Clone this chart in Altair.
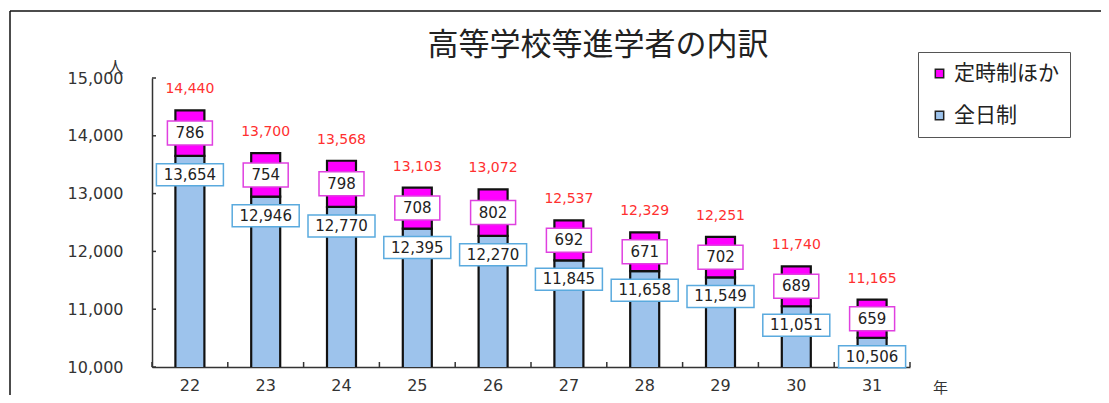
import altair as alt
import pandas as pd

YEARS = ["22", "23", "24", "25", "26", "27", "28", "29", "30", "31"]
FULLTIME = [13654, 12946, 12770, 12395, 12270, 11845, 11658, 11549, 11051, 10506]
PARTTIME = [786, 754, 798, 708, 802, 692, 671, 702, 689, 659]
TOTAL = [14440, 13700, 13568, 13103, 13072, 12537, 12329, 12251, 11740, 11165]
SERIES = ["定時制ほか", "全日制"]
Y_TICKS = [10000, 11000, 12000, 13000, 14000, 15000]
TITLE = "高等学校等進学者の内訳"

W, H = 758, 289
STEP = W / len(YEARS)
JP = "Noto Sans CJK JP"
NUM = "DejaVu Sans"

long_rows = []
for y, f, p in zip(YEARS, FULLTIME, PARTTIME):
    long_rows.append({"年": y, "区分": "全日制", "人数": f, "ord": 0})
    long_rows.append({"年": y, "区分": "定時制ほか", "人数": p, "ord": 1})
long_df = pd.DataFrame(long_rows)
wide_df = pd.DataFrame({"年": YEARS, "full": FULLTIME, "part": PARTTIME, "total": TOTAL})
tick_df = pd.DataFrame({"v": Y_TICKS})

X_AXIS = alt.Axis(labelAngle=0, ticks=False, grid=False, labelPadding=10,
                  labelFontSize=16, labelFont=NUM, labelColor="#333",
                  domainColor="#333", domainWidth=1.5,
                  title="年", titleX=788, titleY=20, titleAlign="center",
                  titleBaseline="middle", titleFontSize=15, titleFont=JP,
                  titleFontWeight="normal", titleColor="#333")
Y_AXIS = alt.Axis(values=Y_TICKS, format=",.0f", ticks=False, grid=False, labelPadding=29,
                  labelFontSize=16, labelFont=NUM, labelColor="#333",
                  domainColor="#333", domainWidth=1.5,
                  title="人", titleAngle=0, titleX=-37, titleY=-11, titleAlign="center",
                  titleBaseline="middle", titleFontSize=16, titleFont=JP,
                  titleFontWeight="normal", titleColor="#333")
x_scale = alt.Scale(paddingInner=0, paddingOuter=0)
y_scale = alt.Scale(domain=[10000, 15000], zero=False, nice=False)


def X():
    return alt.X("年:N", sort=YEARS, scale=x_scale, axis=X_AXIS)


def Y(field, **kw):
    return alt.Y(field, scale=y_scale, axis=Y_AXIS, **kw)


bars = alt.Chart(long_df).mark_bar(size=29, stroke="#111", strokeWidth=2.2, clip=True).encode(
    x=X(),
    y=Y("人数:Q", stack="zero"),
    color=alt.Color("区分:N", scale=alt.Scale(domain=SERIES, range=["#ff00ff", "#9dc3ec"]),
                    legend=alt.Legend(title=None, orient="none", legendX=766, legendY=-26,
                                      strokeColor="#555", fillColor="white", padding=11,
                                      labelFontSize=21, labelFont=JP, labelColor="#222",
                                      rowPadding=20, labelOffset=4, symbolType="square",
                                      symbolSize=70, symbolStrokeColor="#222",
                                      symbolStrokeWidth=1.5)),
    order=alt.Order("ord:Q", sort="ascending"),
)

base = alt.Chart(wide_df).encode(x=X())

totals = base.mark_text(dy=-21, color="#ff3030", fontSize=14, font=NUM).encode(
    y=Y("total:Q"), text=alt.Text("total:Q", format=","))

mid = base.transform_calculate(mid="datum.full + datum.part / 2")
pbox = mid.mark_point(shape="M-1,-0.533L1,-0.533L1,0.533L-1,0.533Z", size=2025, filled=True,
                      fill="white", stroke="#e040e0", strokeWidth=1.5, opacity=1).encode(
    y=Y("mid:Q"))
ptext = mid.mark_text(fontSize=15, font=NUM, color="#222").encode(
    y=Y("mid:Q"), text=alt.Text("part:Q", format=","))

fbox = base.mark_point(shape="M-1,-0.328L1,-0.328L1,0.328L-1,0.328Z", size=4489, filled=True,
                       fill="white", stroke="#5aaade", strokeWidth=1.5, opacity=1,
                       yOffset=19).encode(y=Y("full:Q"))
ftext = base.mark_text(fontSize=15, font=NUM, color="#222", yOffset=19).encode(
    y=Y("full:Q"), text=alt.Text("full:Q", format=","))

xticks = base.mark_rule(xOffset=-STEP / 2, color="#333", strokeWidth=1.5).encode(
    y=alt.value(H), y2=alt.value(H - 5))
xtick_end = alt.Chart(wide_df.head(1)).mark_rule(color="#333", strokeWidth=1.5).encode(
    x=alt.value(W), y=alt.value(H), y2=alt.value(H - 5))
yticks = alt.Chart(tick_df).mark_rule(color="#333", strokeWidth=1.5).encode(
    y=Y("v:Q"), x=alt.value(0), x2=alt.value(4))

frame_left = alt.Chart(wide_df.head(1)).mark_rule(color="#111", strokeWidth=1.5).encode(
    x=alt.value(-142), y=alt.value(-67), y2=alt.value(H + 28))
frame_top = alt.Chart(wide_df.head(1)).mark_rule(color="#111", strokeWidth=1.5).encode(
    x=alt.value(-142), x2=alt.value(W + 191), y=alt.value(-67))

chart = alt.layer(bars, totals, pbox, ptext, fbox, ftext, xticks, xtick_end, yticks,
                  frame_left, frame_top).properties(
    width=W, height=H,
    autosize=alt.AutoSizeParams(type="none"),
    padding={"left": 144, "top": 70, "right": 191, "bottom": 28},
    title=alt.TitleParams(TITLE, font=JP, fontSize=31, fontWeight="normal", color="#222",
                          anchor="middle", frame="group", dx=67, baseline="middle", offset=-67),
).configure_view(stroke=None)

chart.save("out.html", embed_options={"renderer": "svg", "actions": False})
